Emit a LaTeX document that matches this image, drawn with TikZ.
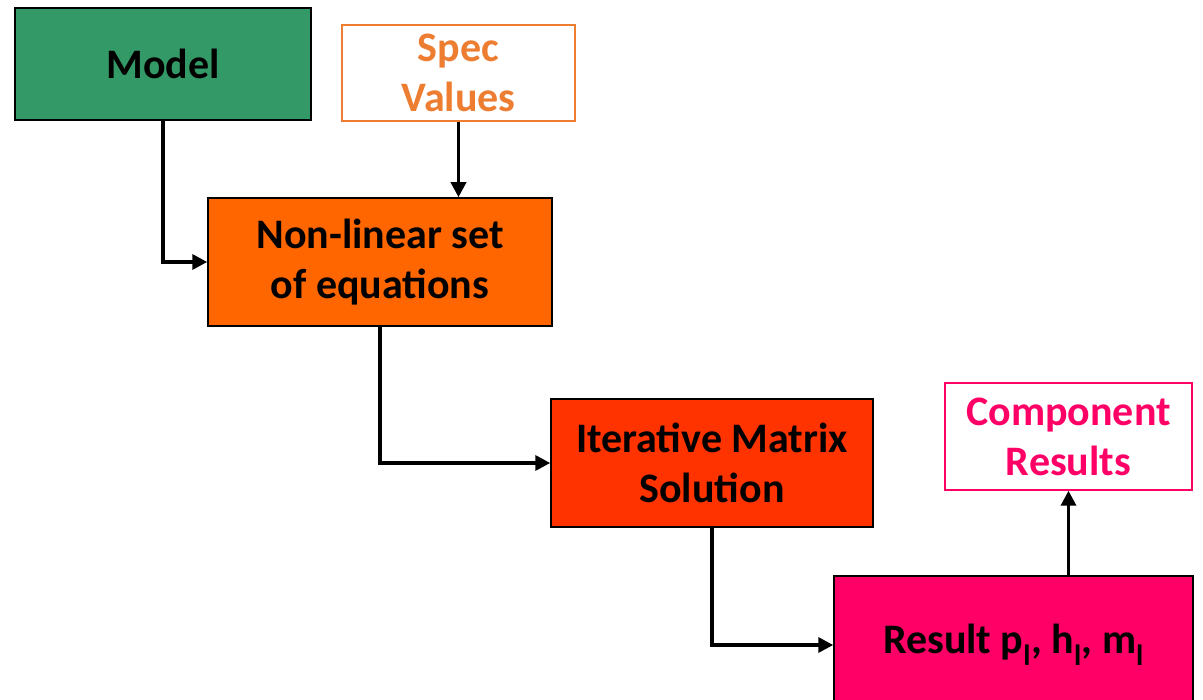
\documentclass[tikz,border=0pt]{standalone}
\usepackage{fontspec}
\setmainfont{Carlito}
\usetikzlibrary{arrows.meta}
\definecolor{modelgreen}{HTML}{339966}
\definecolor{specorange}{HTML}{ED7D31}
\definecolor{eqorange}{HTML}{FF6600}
\definecolor{iterred}{HTML}{FF3300}
\definecolor{resultpink}{HTML}{FF0066}
\tikzset{
  box/.style={rectangle, draw=black, line width=1.5pt, align=center,
    font=\fontsize{42}{50}\selectfont\bfseries, inner sep=0pt},
  outlinebox/.style={box, fill=white},
  link/.style={line width=3.5pt, -{Triangle[length=15pt,width=15pt]}}
}
\begin{document}
\begin{tikzpicture}[x=1pt,y=-1pt]
  \useasboundingbox (0,0) rectangle (1203,700);
  \clip (0,0) rectangle (1203,700);
  \node[box, fill=modelgreen, minimum width=296pt, minimum height=112pt] (model) at (163,64) {Model};
  \node[outlinebox, draw=specorange, text=specorange, minimum width=233pt, minimum height=96pt] (spec) at (458.5,73) {Spec\\Values};
  \node[box, fill=eqorange, minimum width=344pt, minimum height=128pt] (eqs) at (380,262) {Non-linear set\\of equations};
  \node[box, fill=iterred, minimum width=322pt, minimum height=128pt] (iter) at (712,463) {Iterative Matrix\\Solution};
  \node[box, fill=resultpink, minimum width=359pt, minimum height=138pt] (result) at (1013.5,645) {Result p\textsubscript{l}, h\textsubscript{l}, m\textsubscript{l}};
  \node[outlinebox, draw=resultpink, text=resultpink, minimum width=247pt, minimum height=107pt] (comp) at (1068.5,436.5) {Component\\Results};
  \draw[link] (model.south) |- (eqs.west);
  \draw[link] (spec.south) -- (spec.south |- eqs.north);
  \draw[link] (eqs.south) |- (iter.west);
  \draw[link] (iter.south) |- (result.west);
  \draw[link] (comp.south |- result.north) -- (comp.south);
\end{tikzpicture}
\end{document}
